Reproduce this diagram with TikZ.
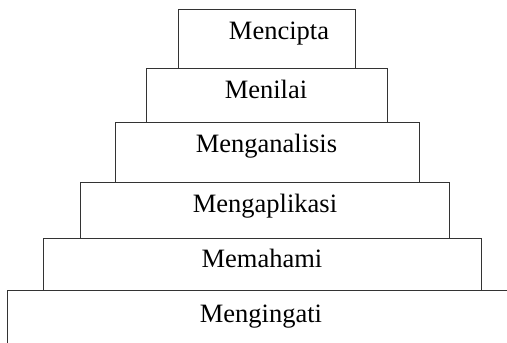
\documentclass[tikz,border=0pt]{standalone}
\usepackage{fontspec}
\setmainfont{Liberation Serif}
\begin{document}
\begin{tikzpicture}[x=1pt,y=-1pt,
  level/.style={draw=black!80,line width=1pt},
  lbl/.style={anchor=base,inner sep=0pt,font=\fontsize{26.5}{30}\selectfont}]
\useasboundingbox (0,0) rectangle (507,343);
\begin{scope}
\clip (0,0) rectangle (507,343);
\draw[level] (178,9) rectangle (355,68);
\draw[level] (146,68) rectangle (387,122);
\draw[level] (115,122) rectangle (419,182);
\draw[level] (80,182) rectangle (449,238);
\draw[level] (43,238) rectangle (481,290);
\draw[level] (7,350) -- (7,290) -- (515,290);
\end{scope}
\node[lbl] (t1) at (279,39) {Mencipta};
\node[lbl] (t2) at (266,98) {Menilai};
\node[lbl] (t3) at (266.5,152) {Menganalisis};
\node[lbl] (t4) at (265,212) {Mengaplikasi};
\node[lbl] (t5) at (262,267) {Memahami};
\node[lbl] (t6) at (261,322) {Mengingati};
\end{tikzpicture}
\end{document}
